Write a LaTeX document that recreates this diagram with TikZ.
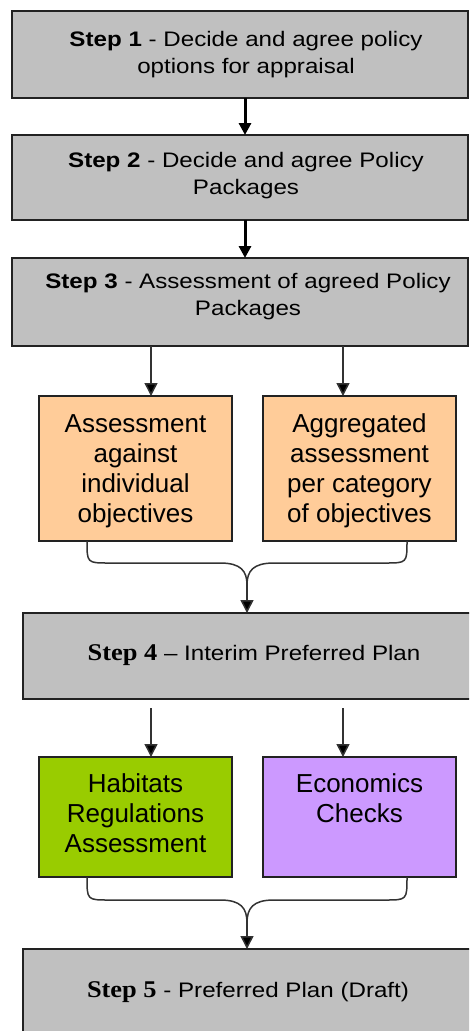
\documentclass[tikz,border=0pt]{standalone}
\usepackage{fontspec}
\setmainfont{Liberation Sans}
\newfontfamily\stepfont[FakeStretch=1.15]{Liberation Sans}
\newfontfamily\stepserif[FakeStretch=1.1]{Liberation Serif}
\usetikzlibrary{arrows.meta}
\definecolor{boxgray}{HTML}{C0C0C0}
\definecolor{boxorange}{HTML}{FFCC99}
\definecolor{boxgreen}{HTML}{99CC00}
\definecolor{boxpurple}{HTML}{CC99FF}
\definecolor{edgecol}{HTML}{222222}
\definecolor{conncol}{HTML}{333333}
\begin{document}
\begin{tikzpicture}[x=1pt,y=-1pt,
  box/.style={draw=edgecol, line width=1.5pt, inner sep=0pt, outer sep=0pt, rectangle},
  stepbox/.style={box, fill=boxgray},
  smallbox/.style={box, minimum width=193pt},
  steptext/.style={inner sep=0pt, align=center, anchor=base, text=black, font=\stepfont\fontsize{21}{27}\selectfont},
  boxtext/.style={inner sep=0pt, align=center, anchor=base, text=black, font=\fontsize{26}{30}\selectfont},
  thickarrow/.style={line width=3pt, draw=black, -{Triangle[width=12pt,length=12pt]}},
  thinarrow/.style={line width=1.5pt, draw=conncol, -{Triangle[width=13pt,length=13pt,fill=black]}},
  conn/.style={line width=1.5pt, draw=conncol},
]
\useasboundingbox (0,0) rectangle (469,1031);
\clip (0,0) rectangle (469,1031);
\fill[white] (0,0) rectangle (469,1031);

% boxes
\node[stepbox, minimum width=456pt, minimum height=87pt] (s1) at (240,54.5) {};
\node[stepbox, minimum width=456pt, minimum height=85pt] (s2) at (240,177.5) {};
\node[stepbox, minimum width=456pt, minimum height=88pt] (s3) at (240,302) {};
\node[smallbox, fill=boxorange, minimum height=145pt] (o1) at (135.5,468.5) {};
\node[smallbox, fill=boxorange, minimum height=145pt] (o2) at (359.5,468.5) {};
\node[stepbox, minimum width=466pt, minimum height=86pt] (s4) at (256,656) {};
\node[smallbox, fill=boxgreen, minimum height=120pt] (g1) at (135.5,817) {};
\node[smallbox, fill=boxpurple, minimum height=120pt] (p1) at (359.5,817) {};
\node[stepbox, minimum width=466pt, minimum height=87pt] (s5) at (256,992.5) {};

% texts (anchor = baseline of the last line)
\node[steptext] (t1) at (246,73) {{\bfseries Step 1} - Decide and agree policy\\options for appraisal};
\node[steptext] (t2) at (246,194) {{\bfseries Step 2} - Decide and agree Policy\\Packages};
\node[steptext] (t3) at (248,315) {{\bfseries Step 3} - Assessment of agreed Policy\\Packages};
\node[steptext] (t4) at (254,660) {{\stepserif\bfseries\fontsize{24}{27}\selectfont Step 4} \textendash{} Interim Preferred Plan};
\node[steptext] (t5) at (248,997) {{\stepserif\bfseries\fontsize{24}{27}\selectfont Step 5} - Preferred Plan (Draft)};
\node[boxtext] (o1t) at (135.5,522) {Assessment\\against\\individual\\objectives};
\node[boxtext] (o2t) at (359.5,522) {Aggregated\\assessment\\per category\\of objectives};
\node[boxtext] (g1t) at (135.5,852) {Habitats\\Regulations\\Assessment};
\node[boxtext] (p1t) at (359.5,822) {Economics\\Checks};

% helper coordinates
\coordinate (a1) at (151,0);
\coordinate (a2) at (343,0);
\coordinate (b1) at (87,0);
\coordinate (b2) at (407,0);
\coordinate (m) at (245,0);
\coordinate (j1) at (247,585);
\coordinate (j2) at (247,923);
\coordinate (c1) at (151,708);
\coordinate (c2) at (343,708);

% connectors
\draw[thickarrow] (s1.south -| m) -- (s2.north -| m);
\draw[thickarrow] (s2.south -| m) -- (s3.north -| m);
\draw[thinarrow] (s3.south -| a1) -- (o1.north -| a1);
\draw[thinarrow] (s3.south -| a2) -- (o2.north -| a2);

\draw[conn] (o1.south -| b1) .. controls (87,563) .. (109,563) -- (220,563) .. controls (241,563) and (247,571) .. (j1);
\draw[conn] (o2.south -| b2) .. controls (407,563) .. (385,563) -- (274,563) .. controls (253,563) and (247,571) .. (j1);
\draw[thinarrow] (j1) -- (j1 |- s4.north);

\draw[thinarrow] (c1) -- (g1.north -| c1);
\draw[thinarrow] (c2) -- (p1.north -| c2);

\draw[conn] (g1.south -| b1) .. controls (87,900) .. (109,900) -- (220,900) .. controls (241,900) and (247,908) .. (j2);
\draw[conn] (p1.south -| b2) .. controls (407,900) .. (385,900) -- (274,900) .. controls (253,900) and (247,908) .. (j2);
\draw[thinarrow] (j2) -- (j2 |- s5.north);
\end{tikzpicture}
\end{document}
